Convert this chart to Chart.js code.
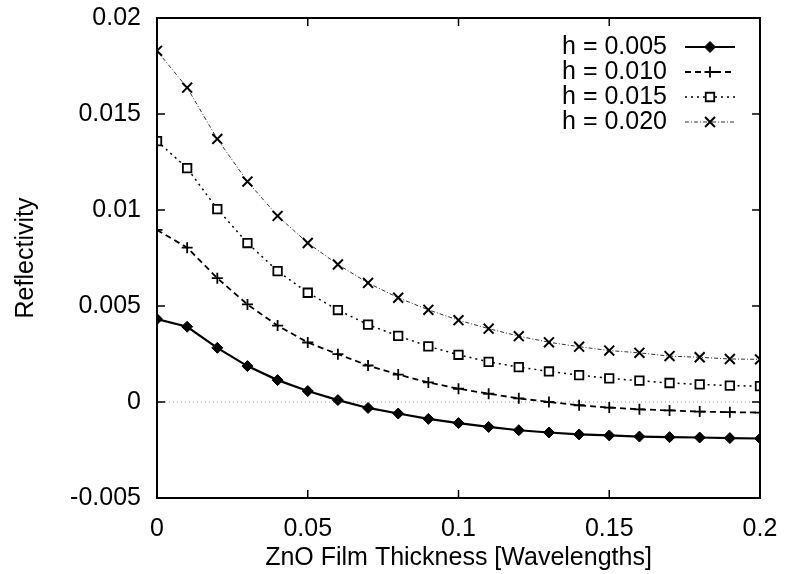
<!DOCTYPE html>
<html>
<head>
<meta charset="utf-8">
<script src="https://cdn.jsdelivr.net/npm/chart.js@4/dist/chart.umd.min.js"></script>
<style>
  html, body { margin: 0; padding: 0; background: #fff; }
  #wrap { width: 786px; height: 574px; }
</style>
</head>
<body>
<div id="wrap"><canvas id="c"></canvas></div>
<script>
// Film thickness samples (wavelengths)
const thickness = [0, 0.01, 0.02, 0.03, 0.04, 0.05, 0.06, 0.07, 0.08, 0.09, 0.10,
                   0.11, 0.12, 0.13, 0.14, 0.15, 0.16, 0.17, 0.18, 0.19, 0.20];

// Reflectivity for each electrode height h
const reflH005 = [0.00432, 0.00392, 0.00282, 0.00187, 0.00114, 0.00057, 0.00010, -0.00031, -0.00060, -0.00088, -0.00110,
                  -0.00130, -0.00147, -0.00159, -0.00169, -0.00174, -0.00180, -0.00183, -0.00185, -0.00188, -0.00190];
const reflH010 = [0.00896, 0.00804, 0.00645, 0.00508, 0.00398, 0.00310, 0.00249, 0.00190, 0.00143, 0.00102, 0.00069,
                  0.00043, 0.00019, 0.00000, -0.00017, -0.00029, -0.00038, -0.00044, -0.00050, -0.00053, -0.00055];
const reflH015 = [0.01359, 0.01218, 0.01005, 0.00828, 0.00682, 0.00569, 0.00479, 0.00403, 0.00344, 0.00290, 0.00246,
                  0.00209, 0.00182, 0.00159, 0.00140, 0.00123, 0.00111, 0.00099, 0.00092, 0.00085, 0.00083];
const reflH020 = [0.01829, 0.01637, 0.01370, 0.01148, 0.00969, 0.00828, 0.00716, 0.00620, 0.00543, 0.00480, 0.00426,
                  0.00382, 0.00343, 0.00311, 0.00288, 0.00268, 0.00256, 0.00239, 0.00233, 0.00224, 0.00222];

const seriesLabels = ['h = 0.005', 'h = 0.010', 'h = 0.015', 'h = 0.020'];

// Reference line at zero reflectivity
const zeroX = [0, 0.2];
const zeroY = [0, 0];

// Axis ticks
const xTickValues = [0, 0.05, 0.1, 0.15, 0.2];
const yTickValues = [-0.005, 0, 0.005, 0.01, 0.015, 0.02];

const FONT = '"Liberation Sans", Arial, Helvetica, sans-serif';

const toPoints = (xs, ys) => xs.map((x, i) => ({ x: x, y: ys[i] }));

const datasets = [
  {
    label: seriesLabels[0], data: toPoints(thickness, reflH005),
    borderColor: '#000', backgroundColor: '#000', borderWidth: 2.2, borderDash: [],
    pointStyle: 'rectRot', pointRadius: 5.5, pointBorderWidth: 1,
    pointBackgroundColor: '#000', pointBorderColor: '#000'
  },
  {
    label: seriesLabels[1], data: toPoints(thickness, reflH010),
    borderColor: '#000', backgroundColor: '#000', borderWidth: 1.8, borderDash: [6, 4],
    pointStyle: 'cross', pointRadius: 5.5, pointBorderWidth: 1.8,
    pointBackgroundColor: '#000', pointBorderColor: '#000'
  },
  {
    label: seriesLabels[2], data: toPoints(thickness, reflH015),
    borderColor: '#000', backgroundColor: '#fff', borderWidth: 1.5, borderDash: [2, 4],
    pointStyle: 'rect', pointRadius: 6, pointBorderWidth: 1.8,
    pointBackgroundColor: '#fff', pointBorderColor: '#000'
  },
  {
    label: seriesLabels[3], data: toPoints(thickness, reflH020),
    borderColor: '#333', backgroundColor: '#000', borderWidth: 1, borderDash: [4, 2, 1, 2],
    pointStyle: 'crossRot', pointRadius: 7, pointBorderWidth: 2,
    pointBackgroundColor: '#000', pointBorderColor: '#000'
  },
  {
    label: '', data: toPoints(zeroX, zeroY),
    borderColor: '#999', borderWidth: 1, borderDash: [1, 3],
    pointRadius: 0, isZeroLine: true
  }
];

// Inward tick marks on all four sides plus the frame
const framePlugin = {
  id: 'frame',
  afterDatasetsDraw(chart) {
    const { ctx, chartArea: a, scales } = chart;
    ctx.save();
    ctx.strokeStyle = '#000';
    ctx.lineWidth = 2;
    ctx.strokeRect(a.left, a.top, a.right - a.left, a.bottom - a.top);
    const len = 8;
    ctx.lineWidth = 1.5;
    ctx.beginPath();
    yTickValues.forEach(v => {
      const y = scales.y.getPixelForValue(v);
      ctx.moveTo(a.left, y); ctx.lineTo(a.left + len, y);
      ctx.moveTo(a.right, y); ctx.lineTo(a.right - len, y);
    });
    xTickValues.forEach(v => {
      const x = scales.x.getPixelForValue(v);
      ctx.moveTo(x, a.bottom); ctx.lineTo(x, a.bottom - len);
      ctx.moveTo(x, a.top); ctx.lineTo(x, a.top + len);
    });
    ctx.stroke();
    ctx.restore();
  }
};

// Key in the upper right: label text followed by a line sample with its marker
const keyPlugin = {
  id: 'key',
  afterDraw(chart) {
    const { ctx } = chart;
    const textRight = 667, lineL = 685, lineR = 735, top = 47, step = 25;
    ctx.save();
    ctx.font = '25px ' + FONT;
    ctx.textAlign = 'right';
    ctx.textBaseline = 'middle';
    let row = 0;
    chart.data.datasets.forEach(ds => {
      if (ds.isZeroLine) return;
      const y = top + row * step;
      ctx.fillStyle = '#000';
      ctx.fillText(ds.label, textRight, y);
      ctx.strokeStyle = ds.borderColor;
      ctx.lineWidth = ds.borderWidth;
      ctx.setLineDash(ds.borderDash || []);
      ctx.beginPath();
      ctx.moveTo(lineL, y); ctx.lineTo(lineR, y);
      ctx.stroke();
      ctx.setLineDash([]);
      ctx.fillStyle = ds.pointBackgroundColor;
      ctx.strokeStyle = ds.pointBorderColor;
      ctx.lineWidth = ds.pointBorderWidth;
      Chart.helpers.drawPoint(ctx, {
        pointStyle: ds.pointStyle, radius: ds.pointRadius, rotation: 0, borderWidth: ds.pointBorderWidth
      }, (lineL + lineR) / 2, y);
      row++;
    });
    ctx.restore();
  }
};

const fmt = v => String(parseFloat(Number(v).toFixed(4)));

new Chart(document.getElementById('c'), {
  type: 'line',
  data: { datasets: datasets },
  options: {
    responsive: true,
    maintainAspectRatio: false,
    animation: false,
    layout: { padding: { top: 18, right: 26, left: 0, bottom: 0 } },
    plugins: { legend: { display: false }, tooltip: { enabled: false } },
    elements: { line: { tension: 0, fill: false } },
    scales: {
      x: {
        type: 'linear', min: 0, max: 0.2,
        afterBuildTicks: s => { s.ticks = xTickValues.map(v => ({ value: v })); },
        afterFit: s => { s.height = 76; s.paddingLeft = 0; s.paddingRight = 0; },
        grid: { display: false, drawTicks: false },
        border: { display: false },
        ticks: { color: '#000', font: { family: FONT, size: 25 }, padding: 16, maxRotation: 0, callback: v => fmt(v) },
        title: { display: true, text: 'ZnO Film Thickness [Wavelengths]', color: '#000',
                 font: { family: FONT, size: 25 }, padding: 1 }
      },
      y: {
        type: 'linear', min: -0.005, max: 0.02,
        afterBuildTicks: s => { s.ticks = yTickValues.map(v => ({ value: v })); },
        afterFit: s => { s.width = 157; s.paddingTop = 0; s.paddingBottom = 0; },
        grid: { display: false, drawTicks: false },
        border: { display: false },
        ticks: { color: '#000', font: { family: FONT, size: 25 }, padding: 16, callback: v => fmt(v) },
        title: { display: true, text: 'Reflectivity', color: '#000',
                 font: { family: FONT, size: 25 }, padding: 11 }
      }
    }
  },
  plugins: [framePlugin, keyPlugin]
});
</script>
</body>
</html>
